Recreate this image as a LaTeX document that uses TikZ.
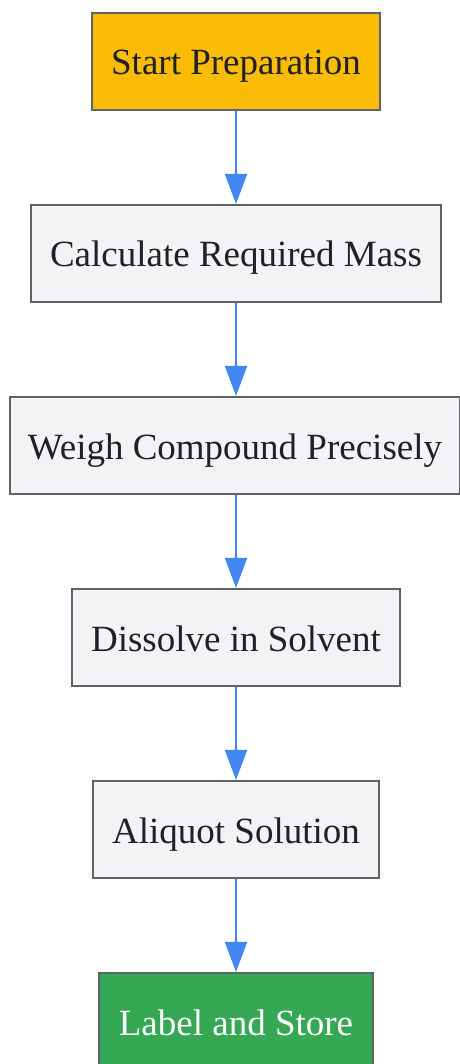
\documentclass[tikz,border=0pt]{standalone}
\usepackage{fontspec}
\setmainfont{Liberation Serif}
\usetikzlibrary{arrows.meta}
\definecolor{startY}{HTML}{FBBC05}
\definecolor{endG}{HTML}{34A853}
\definecolor{stepF}{HTML}{F1F3F4}
\definecolor{bordC}{HTML}{5F6368}
\definecolor{txtC}{HTML}{202124}
\definecolor{arrB}{HTML}{4285F4}
\tikzset{
  x=1pt, y=-1pt,
  box/.style={draw=bordC, line width=2.2pt, fill=stepF, text=txtC, minimum height=97pt, inner sep=0pt, text height=35pt, text depth=8pt, font=\fontsize{37}{40}\selectfont},
  flow/.style={draw=arrB, line width=2.4pt, -{Triangle[width=22pt,length=30pt]}}
}
\begin{document}
\begin{tikzpicture}
\useasboundingbox (0,0) rectangle (459,1064);
\node[box, fill=startY, minimum width=288pt] (n1) at (236,61.5) {Start Preparation};
\node[box, minimum width=410pt] (n2) at (236,253.5) {Calculate Required Mass};
\node[box, minimum width=450pt] (n3) at (235,445.5) {Weigh Compound Precisely};
\node[box, minimum width=328pt] (n4) at (236,637.5) {Dissolve in Solvent};
\node[box, minimum width=286pt] (n5) at (236,829.5) {Aliquot Solution};
\node[box, fill=endG, text=white, minimum width=274pt] (n6) at (236,1021.5) {Label and Store};
\draw[flow] (n1.south) -- (n2.north);
\draw[flow] (n2.south) -- (n3.north -| n2.south);
\draw[flow] (n3.south -| n4.north) -- (n4.north);
\draw[flow] (n4.south) -- (n5.north);
\draw[flow] (n5.south) -- (n6.north);
\end{tikzpicture}
\end{document}
